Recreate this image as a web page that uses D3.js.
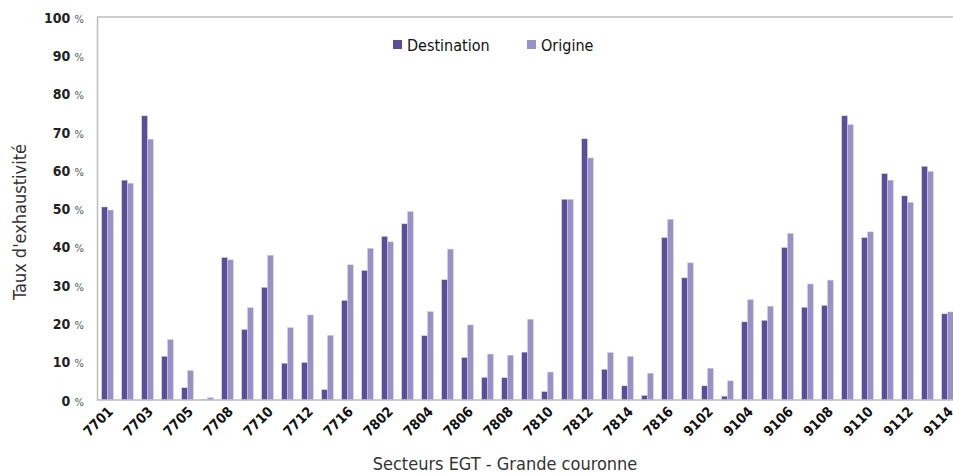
<!DOCTYPE html>
<html lang="fr">
<head>
<meta charset="utf-8">
<title>Taux d'exhaustivité</title>
<script src="https://d3js.org/d3.v7.min.js"></script>
<style>
  body { margin: 0; background: #fff; }
  text { font-family: "DejaVu Sans Condensed", "Liberation Sans Narrow", "DejaVu Sans", sans-serif; font-stretch: condensed; }
</style>
</head>
<body>
<div id="chart"></div>
<script>

// sectors (labels shown every other one)
var secteurs = ["7701","7702","7703","7704","7705","7706","7708","7709","7710","7711",
  "7712","7714","7716","7801","7802","7803","7804","7805","7806","7807",
  "7808","7809","7810","7811","7812","7813","7814","7815","7816","9101",
  "9102","9103","9104","9105","9106","9107","9108","9109","9110","9111",
  "9112","9113","9114"];

var destination = [50.4, 57.4, 74.2, 11.4, 3.2, 0.2, 37.2, 18.4, 29.4, 9.6,
  9.8, 2.7, 26.0, 33.8, 42.7, 46.0, 16.8, 31.4, 11.1, 5.9,
  5.8, 12.5, 2.2, 52.4, 68.2, 8.0, 3.7, 1.2, 42.4, 31.9,
  3.7, 1.0, 20.4, 20.8, 39.8, 24.2, 24.7, 74.2, 42.4, 59.1,
  53.3, 61.0, 22.5];

var origine = [49.6, 56.6, 68.1, 15.8, 7.7, 0.6, 36.6, 24.1, 37.8, 18.9,
  22.2, 16.9, 35.3, 39.6, 41.3, 49.2, 23.1, 39.4, 19.6, 12.0,
  11.7, 21.1, 7.3, 52.4, 63.2, 12.4, 11.4, 7.0, 47.2, 35.8,
  8.3, 5.0, 26.2, 24.5, 43.5, 30.3, 31.3, 71.9, 43.9, 57.4,
  51.6, 59.7, 23.0];

var yTicks = [0, 10, 20, 30, 40, 50, 60, 70, 80, 90, 100];
var series = ["Destination", "Origine"];
var colors = ["#5a4f96", "#9a91c7"];

var W = 953, H = 475;
var margin = {top: 17, left: 97.5, bottom: 75};
var plotBottom = H - margin.bottom;

var svg = d3.select("#chart").append("svg")
  .attr("width", W)
  .attr("height", H);

var x = d3.scaleBand()
  .domain(secteurs)
  .range([margin.left, margin.left + 20 * secteurs.length])
  .paddingInner(0.42)
  .paddingOuter(0.21);

var xSub = d3.scaleBand()
  .domain(series)
  .range([0, x.bandwidth()]);

var y = d3.scaleLinear()
  .domain([0, 100])
  .range([plotBottom, margin.top]);

// bars
var data = secteurs.map(function(s, i) {
  return {s: s, vals: [destination[i], origine[i]]};
});

var groups = svg.append("g").selectAll("g")
  .data(data)
  .enter().append("g")
    .attr("transform", function(d) { return "translate(" + x(d.s) + ",0)"; });

groups.selectAll("rect")
  .data(function(d) { return d.vals.map(function(v, j) { return {k: series[j], v: v, j: j}; }); })
  .enter().append("rect")
    .attr("x", function(d) { return xSub(d.k); })
    .attr("y", function(d) { return y(d.v); })
    .attr("width", xSub.bandwidth())
    .attr("height", function(d) { return plotBottom - y(d.v); })
    .attr("fill", function(d) { return colors[d.j]; })
    .attr("stroke", "#d6d2ea")
    .attr("stroke-width", 0.5);

// frame: left, top, bottom
svg.append("path")
  .attr("d", "M" + W + "," + margin.top + "H" + margin.left + "V" + plotBottom + "H" + W)
  .attr("fill", "none")
  .attr("stroke", "#bdbdbd")
  .attr("stroke-width", 1.5);

// y axis labels
var yLab = svg.append("g").selectAll("text")
  .data(yTicks)
  .enter().append("text")
    .attr("x", 84)
    .attr("y", function(d) { return y(d); })
    .attr("dy", "0.35em")
    .attr("text-anchor", "end");
yLab.append("tspan")
  .attr("font-size", 14)
  .attr("font-weight", "bold")
  .attr("fill", "#222")
  .text(function(d) { return d + " "; });
yLab.append("tspan")
  .attr("font-size", 11)
  .attr("fill", "#555")
  .text("%");

// x axis labels (every other sector), rotated 45 degrees
var xLab = svg.append("g").selectAll("g")
  .data(secteurs.filter(function(d, i) { return i % 2 === 0; }))
  .enter().append("g")
    .attr("transform", function(d) {
      return "translate(" + (x(d) + x.bandwidth() / 2 + 3) + "," + (plotBottom + 9) + ")";
    });
xLab.append("text")
  .attr("transform", "rotate(-45)")
  .attr("text-anchor", "end")
  .attr("dy", "0.35em")
  .attr("font-size", 14)
  .attr("font-weight", "bold")
  .attr("fill", "#111")
  .text(function(d) { return d; });

// axis titles
svg.append("text")
  .attr("x", 505)
  .attr("y", 470)
  .attr("text-anchor", "middle")
  .attr("font-size", 18)
  .attr("fill", "#333")
  .text("Secteurs EGT - Grande couronne");

svg.append("text")
  .attr("transform", "translate(26,222) rotate(-90)")
  .attr("text-anchor", "middle")
  .attr("font-size", 18)
  .attr("fill", "#333")
  .text("Taux d'exhaustivité");

// legend
var legendPos = [393, 527];
var legend = svg.append("g").selectAll("g")
  .data(series)
  .enter().append("g")
    .attr("transform", function(d, i) { return "translate(" + legendPos[i] + ",40)"; });
legend.append("rect")
  .attr("width", 9)
  .attr("height", 9)
  .attr("fill", function(d, i) { return colors[i]; });
legend.append("text")
  .attr("x", 14)
  .attr("y", 5)
  .attr("dy", "0.35em")
  .attr("font-size", 16)
  .attr("fill", "#111")
  .text(function(d) { return d; });

</script>
</body>
</html>
